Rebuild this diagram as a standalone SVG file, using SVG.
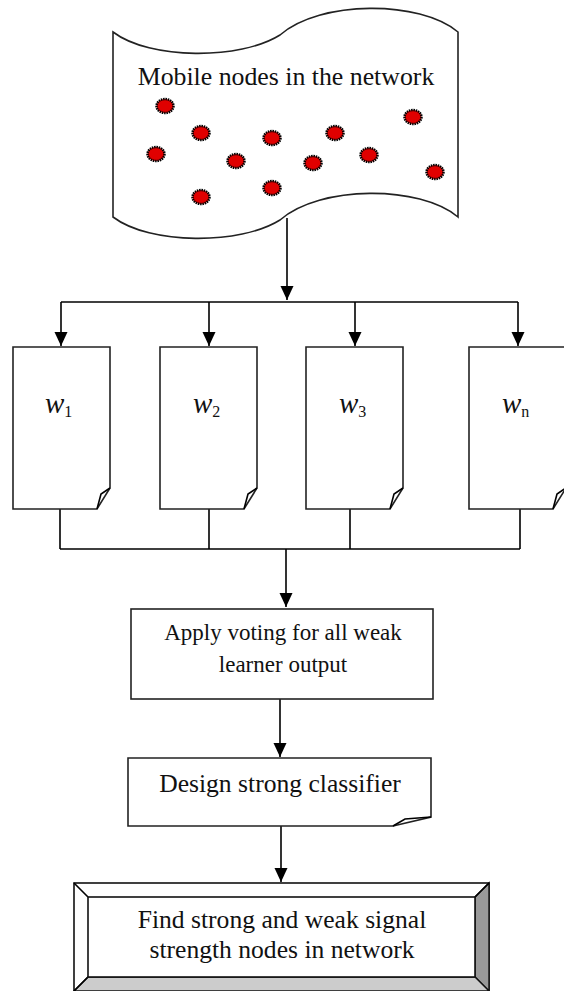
<svg xmlns="http://www.w3.org/2000/svg" width="564" height="991" viewBox="0 0 564 991">
<style>
.ln{fill:none;stroke:#000;stroke-width:1.6}
.bx{fill:#fff;stroke:#222;stroke-width:1.6}
.t{font-family:"Liberation Serif","Times New Roman",serif;fill:#111;text-anchor:middle}
.w{font-family:"Liberation Serif","DejaVu Serif",serif;fill:#111;font-size:29px;font-style:italic}
.s{font-style:normal;font-size:16px}
.dot{fill:#e00000;stroke:#000;stroke-width:2.5;stroke-dasharray:1.5 0.8}
</style>
<defs>
<marker id="ah" markerUnits="userSpaceOnUse" markerWidth="15" markerHeight="15" viewBox="0 0 15 15" refX="14" refY="7.5" orient="auto">
<path d="M0,1 L14,7.5 L0,14 Z" fill="#000"/>
</marker>
</defs>
<g id="flag">
<path class="bx" d="M113,32 C150,60 240,60 280,35 C320,0 420,0 458,32 L458,217 C420,185 320,185 280,220 C240,245 150,245 113,217 Z"/>
<text class="t" x="286" y="85" font-size="25.8">Mobile nodes in the network</text>
<ellipse class="dot" cx="165" cy="106" rx="8.5" ry="7"/>
<ellipse class="dot" cx="201" cy="133" rx="8.5" ry="7"/>
<ellipse class="dot" cx="272" cy="138" rx="8.5" ry="7"/>
<ellipse class="dot" cx="335" cy="133" rx="8.5" ry="7"/>
<ellipse class="dot" cx="413" cy="117" rx="8.5" ry="7"/>
<ellipse class="dot" cx="156" cy="154" rx="8.5" ry="7"/>
<ellipse class="dot" cx="236" cy="161" rx="8.5" ry="7"/>
<ellipse class="dot" cx="313" cy="163" rx="8.5" ry="7"/>
<ellipse class="dot" cx="369" cy="155" rx="8.5" ry="7"/>
<ellipse class="dot" cx="435" cy="172" rx="8.5" ry="7"/>
<ellipse class="dot" cx="201" cy="197" rx="8.5" ry="7"/>
<ellipse class="dot" cx="272" cy="188" rx="8.5" ry="7"/>
</g>
<g id="connectors">
<path class="ln" d="M287,218 V300" marker-end="url(#ah)"/>
<path class="ln" d="M61,302 H518"/>
<path class="ln" d="M61,302 V346" marker-end="url(#ah)"/>
<path class="ln" d="M209,302 V346" marker-end="url(#ah)"/>
<path class="ln" d="M355,302 V346" marker-end="url(#ah)"/>
<path class="ln" d="M518,302 V346" marker-end="url(#ah)"/>
<path class="ln" d="M60,509 V549 M209,509 V549 M350,509 V549 M520,509 V549 M60,549 H520"/>
<path class="ln" d="M286,549 V607" marker-end="url(#ah)"/>
<path class="ln" d="M280,699 V757" marker-end="url(#ah)"/>
<path class="ln" d="M281,826 V882" marker-end="url(#ah)"/>
</g>
<g id="w1">
<path class="bx" d="M13,347 H110 V488 L97,509 H13 Z"/>
<path class="ln" d="M110,488 L101,494 L97,509" stroke-width="1.2"/>
<text class="w" x="45" y="413">w<tspan class="s" dy="4">1</tspan></text>
</g>
<g id="w2">
<path class="bx" d="M160,347 H257 V488 L244,509 H160 Z"/>
<path class="ln" d="M257,488 L248,494 L244,509" stroke-width="1.2"/>
<text class="w" x="193" y="413">w<tspan class="s" dy="4">2</tspan></text>
</g>
<g id="w3">
<path class="bx" d="M306,347 H403 V488 L390,509 H306 Z"/>
<path class="ln" d="M403,488 L394,494 L390,509" stroke-width="1.2"/>
<text class="w" x="339" y="413">w<tspan class="s" dy="4">3</tspan></text>
</g>
<g id="wn">
<path class="bx" d="M469,347 H566 V488 L553,509 H469 Z"/>
<path class="ln" d="M566,488 L557,494 L553,509" stroke-width="1.2"/>
<text class="w" x="502" y="413">w<tspan class="s" dy="4">n</tspan></text>
</g>
<g id="voting">
<rect class="bx" x="131" y="609" width="302" height="90"/>
<text class="t" x="283" y="640" font-size="23">Apply voting for all weak</text>
<text class="t" x="283" y="672" font-size="23">learner output</text>
</g>
<g id="design">
<path class="bx" d="M128,758 H431 V817 L393,826 H128 Z"/>
<path class="ln" d="M431,817 L405,819 L393,826" stroke-width="1.2"/>
<text class="t" x="280" y="792" font-size="25.6">Design strong classifier</text>
</g>
<g id="find">
<rect x="74" y="883" width="415" height="108" fill="#fff" stroke="#111" stroke-width="1.6"/>
<path d="M475,897 L489,883 L489,991 L475,977 Z" fill="#999" stroke="#111" stroke-width="1.4"/>
<path d="M88,977 L475,977 L489,991 L74,991 Z" fill="#ccc" stroke="#111" stroke-width="1.4"/>
<path d="M74,883 L88,897 M489,883 L475,897 M74,991 L88,977" class="ln" stroke-width="1.4"/>
<rect x="88" y="897" width="387" height="80" fill="#fff" stroke="#111" stroke-width="1.6"/>
<text class="t" x="282" y="928" font-size="25.6">Find strong and weak signal</text>
<text class="t" x="282" y="958" font-size="25.6">strength nodes in network</text>
</g>
</svg>
